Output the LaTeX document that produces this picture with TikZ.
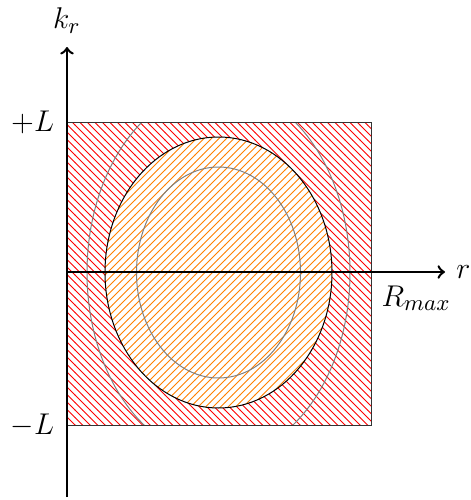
\documentclass[tikz,border=0pt]{standalone}
\usetikzlibrary{patterns}
\begin{document}
\begin{tikzpicture}[x=0.4pt,y=-0.4pt,
  axis/.style={line width=1pt,->},
  lbl/.style={font=\fontsize{12.8}{15}\selectfont},
  guide/.style={gray,line width=0.4pt}]
\useasboundingbox (0,0) rectangle (471,500);
% region
\path[pattern=north west lines,pattern color=red] (67,122) rectangle (371,425);
\begin{scope}
  \clip (67,122) rectangle (371,425);
  \draw[guide] (218.5,272.5) ellipse [x radius=131.5,y radius=185];
\end{scope}
\fill[white] (218.5,272.5) ellipse [x radius=113.5,y radius=135.5];
\path[pattern=north east lines,pattern color=orange] (218.5,272.5) ellipse [x radius=113.5,y radius=135.5];
\draw[guide] (218.5,272.5) ellipse [x radius=82,y radius=105.5];
\draw[black,line width=0.4pt] (218.5,272.5) ellipse [x radius=113.5,y radius=135.5];
\draw[black!80,line width=0.4pt] (67,122) rectangle (371,425);
% axes
\coordinate (o) at (67,272);
\coordinate (kb) at (67,497);
\coordinate (kt) at (67,47);
\coordinate (rt) at (445,272);
\coordinate (rm) at (381,285);
\coordinate (pl) at (67,122);
\coordinate (ml) at (67,425);
\draw[axis] (kb) -- (kt) node[above,lbl,inner sep=5pt] (kl) {$k_r$};
\draw[axis] (o) -- (rt) node[right,lbl,inner sep=4pt] (rl) {$r$};
\node[anchor=north west,lbl,inner sep=0pt] (rmax) at (rm) {$R_{max}$};
\node[left,lbl,inner sep=5pt] (lp) at (pl) {$+L$};
\node[left,lbl,inner sep=5pt] (lm) at (ml) {$-L$};
\end{tikzpicture}
\end{document}
